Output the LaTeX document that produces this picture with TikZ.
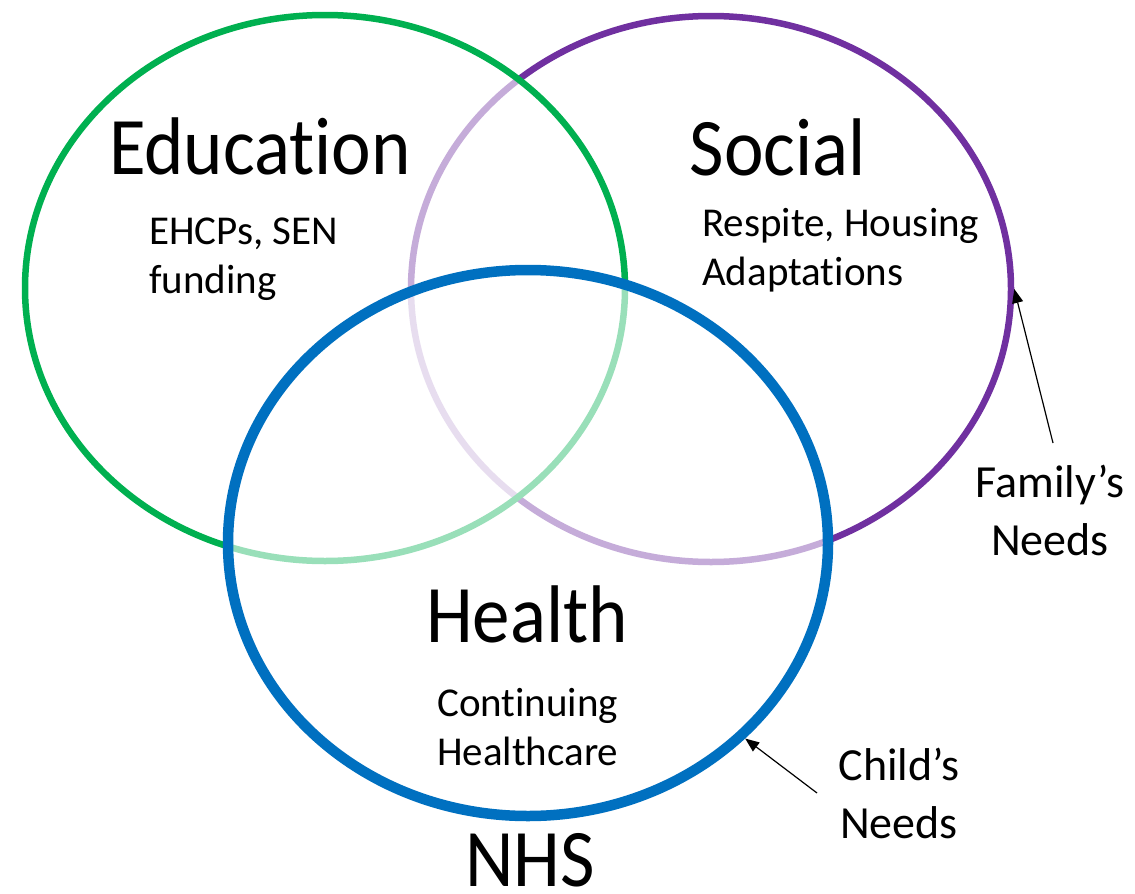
\documentclass[tikz,border=0pt]{standalone}
\usepackage{fontspec}
\setmainfont{Carlito}[Ligatures=NoCommon]
\usetikzlibrary{shapes.geometric,arrows.meta}
\definecolor{edgreen}{HTML}{00B050}
\definecolor{socpurple}{HTML}{7030A0}
\definecolor{hlthblue}{HTML}{0070C0}
\newcommand{\tallword}[1]{\scalebox{1}[1.09]{#1}}
\begin{document}
\begin{tikzpicture}[x=1pt,y=-1pt,
  venn/.style={ellipse, minimum width=600pt, minimum height=546pt, inner sep=0pt,
    fill=white, fill opacity=0.6},
  bigtext/.style={font=\fontsize{75}{90}\selectfont, inner sep=0pt, anchor=base, text depth=0pt},
  smalltext/.style={font=\fontsize{41}{49}\selectfont, inner sep=0pt, align=left, anchor=base west},
  needtext/.style={font=\fontsize{46}{57.5}\selectfont, inner sep=0pt, align=center, anchor=base},
  needarrow/.style={line width=1.2pt, -{Triangle[length=14pt,width=11pt]}}
]
\useasboundingbox (0,0) rectangle (1135,894);
\fill[white] (0,0) rectangle (1135,894);
% circles (bottom to top)
\node[venn, draw=socpurple, line width=6.5pt] (soc) at (711,289) {};
\node[venn, draw=edgreen, line width=6.5pt] (edu) at (325,288) {};
\node[venn, draw=hlthblue, line width=10.5pt] (hlth) at (528,543) {};
% titles
\node[bigtext] (edut) at (260,174) {\tallword{Education}};
\node[bigtext] (soct) at (778,175) {\tallword{Social}};
\node[bigtext] (hlt) at (527,642) {\tallword{Health}};
\node[bigtext] (nhs) at (530,886) {\tallword{NHS}};
% details (anchor = baseline of last line)
\node[smalltext] (edud) at (149,293) {EHCPs, SEN\\funding};
\node[smalltext] (socd) at (702,285) {Respite, Housing\\Adaptations};
\node[smalltext] (hltd) at (437,765) {Continuing\\Healthcare};
% needs
\node[needtext] (fam) at (1050,555) {Family’s\\Needs};
\node[needtext] (child) at (899,838) {Child’s\\Needs};
\coordinate (famtail) at (1053,443);
\coordinate (childtail) at (817,793);
\draw[needarrow] (famtail) -- (soc.east);
\draw[needarrow] (childtail) -- (hlth.-42.5);
\end{tikzpicture}
\end{document}
